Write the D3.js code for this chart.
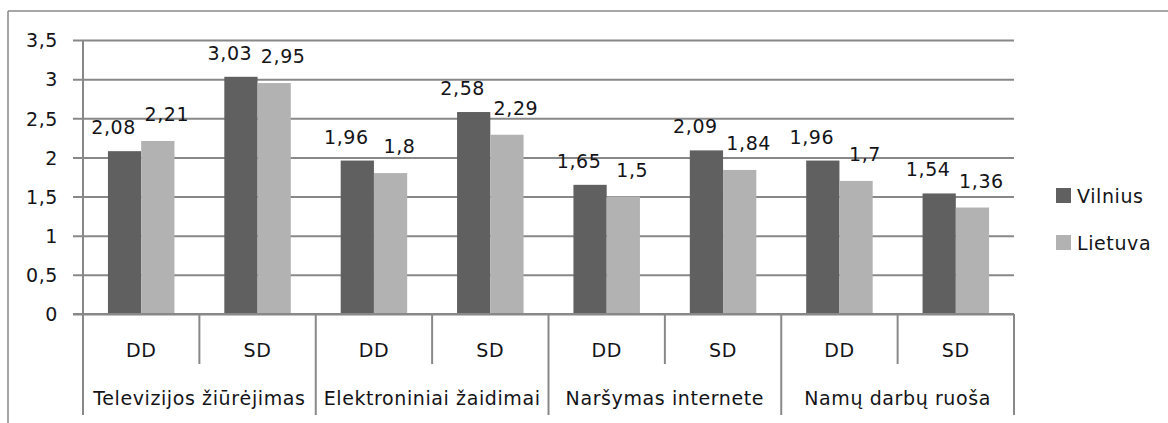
<!DOCTYPE html>
<html>
<head>
<meta charset="utf-8">
<script src="https://cdn.jsdelivr.net/npm/d3@7"></script>
<style>
  body { margin: 0; background: #fff; }
  svg { display: block; }
  text { font-family: "DejaVu Sans", sans-serif; fill: #141418; letter-spacing: 0.6px; }
</style>
</head>
<body>
<script>
var groups = ["Televizijos žiūrėjimas", "Elektroniniai žaidimai", "Naršymas internete", "Namų darbų ruoša"];
var subcats = ["DD", "SD"];
var seriesNames = ["Vilnius", "Lietuva"];
var vilnius = [2.08, 3.03, 1.96, 2.58, 1.65, 2.09, 1.96, 1.54];
var lietuva = [2.21, 2.95, 1.8, 2.29, 1.5, 1.84, 1.7, 1.36];
var yTicks = [0, 0.5, 1, 1.5, 2, 2.5, 3, 3.5];

var colors = ["#606060", "#b2b2b2"];
var gridColor = "#888888";
var fontSize = "19px";

var width = 1168, height = 423;
var plotLeft = 83, plotRight = 1014, plotTop = 40, plotBottom = 314;

var svg = d3.select("body").append("svg").attr("width", width).attr("height", height);

// build category keys: one per group/subcat pair
var cats = [];
groups.forEach(function(g, gi) {
	subcats.forEach(function(s, si) {
		cats.push({ key: gi + "-" + si, group: g, gi: gi, label: s, si: si });
	});
});

var x = d3.scaleBand().domain(cats.map(function(c) { return c.key; })).range([plotLeft, plotRight]);
var xInner = d3.scaleBand().domain(seriesNames).range([0, x.bandwidth()]).paddingOuter(0.75);
var y = d3.scaleLinear().domain([0, 3.5]).range([plotBottom, plotTop]);

var fmt = function(v) { return String(v).replace(".", ","); };

// outer frame (only top and left visible)
svg.append("line").attr("x1", 8).attr("x2", width).attr("y1", 11).attr("y2", 11)
	.attr("stroke", gridColor).attr("stroke-width", 1.5);
svg.append("line").attr("x1", 8).attr("x2", 8).attr("y1", 11).attr("y2", height)
	.attr("stroke", gridColor).attr("stroke-width", 1.5);

// gridlines + y axis
var yAxis = d3.axisLeft(y).tickValues(yTicks).tickSize(-(plotRight - plotLeft)).tickFormat(fmt);
var gy = svg.append("g").attr("transform", "translate(" + plotLeft + ",0)").call(yAxis);
gy.select(".domain").remove();
gy.selectAll(".tick line").attr("stroke", gridColor).attr("stroke-width", 2).attr("x1", -10);
gy.selectAll(".tick text").attr("x", -25).attr("dy", "0.36em")
	.style("font-size", fontSize).attr("fill", null);
gy.attr("font-family", null).attr("font-size", null);

// bars
var data = cats.map(function(c, i) {
	return { cat: c, values: [vilnius[i], lietuva[i]] };
});

var catG = svg.selectAll("g.cat").data(data).enter().append("g")
	.attr("class", "cat")
	.attr("transform", function(d) { return "translate(" + x(d.cat.key) + ",0)"; });

catG.selectAll("rect").data(function(d) {
	return d.values.map(function(v, k) { return { name: seriesNames[k], v: v, k: k }; });
}).enter().append("rect")
	.attr("x", function(d) { return xInner(d.name); })
	.attr("y", function(d) { return y(d.v); })
	.attr("width", xInner.bandwidth())
	.attr("height", function(d) { return y(0) - y(d.v); })
	.attr("fill", function(d) { return colors[d.k]; });

// value labels, dark ones nudged left, light ones nudged right
var labelDx = [-11, 9];
var labelDy = [17, 20];
catG.selectAll("text.val").data(function(d) {
	return d.values.map(function(v, k) { return { name: seriesNames[k], v: v, k: k }; });
}).enter().append("text")
	.attr("class", "val")
	.attr("x", function(d) { return xInner(d.name) + xInner.bandwidth() / 2 + labelDx[d.k]; })
	.attr("y", function(d) { return y(d.v) - labelDy[d.k]; })
	.attr("text-anchor", "middle")
	.style("font-size", fontSize)
	.text(function(d) { return fmt(d.v); });

// category axis
svg.append("line").attr("x1", plotLeft - 10).attr("x2", plotRight).attr("y1", plotBottom).attr("y2", plotBottom)
	.attr("stroke", gridColor).attr("stroke-width", 2);
svg.append("line").attr("x1", plotLeft).attr("x2", plotLeft).attr("y1", plotTop).attr("y2", 415)
	.attr("stroke", gridColor).attr("stroke-width", 2);

cats.forEach(function(c) {
	var xr = x(c.key) + x.bandwidth();
	svg.append("line").attr("x1", xr).attr("x2", xr).attr("y1", plotBottom)
		.attr("y2", c.si === subcats.length - 1 ? 415 : 364)
		.attr("stroke", gridColor).attr("stroke-width", 2);
	svg.append("text").attr("x", x(c.key) + x.bandwidth() / 2).attr("y", 357)
		.attr("text-anchor", "middle").style("font-size", fontSize).text(c.label);
});

groups.forEach(function(g, gi) {
	var x0 = x(gi + "-0"), x1 = x(gi + "-" + (subcats.length - 1)) + x.bandwidth();
	svg.append("text").attr("x", (x0 + x1) / 2).attr("y", 405)
		.attr("text-anchor", "middle").style("font-size", fontSize).text(g);
});

// legend
var legend = svg.selectAll("g.legend").data(seriesNames).enter().append("g")
	.attr("class", "legend")
	.attr("transform", function(d, i) { return "translate(1056," + (188 + i * 47) + ")"; });
legend.append("rect").attr("width", 15).attr("height", 15)
	.attr("fill", function(d, i) { return colors[i]; });
legend.append("text").attr("x", 21).attr("y", 14.5).style("font-size", fontSize)
	.text(function(d) { return d; });
</script>
</body>
</html>
